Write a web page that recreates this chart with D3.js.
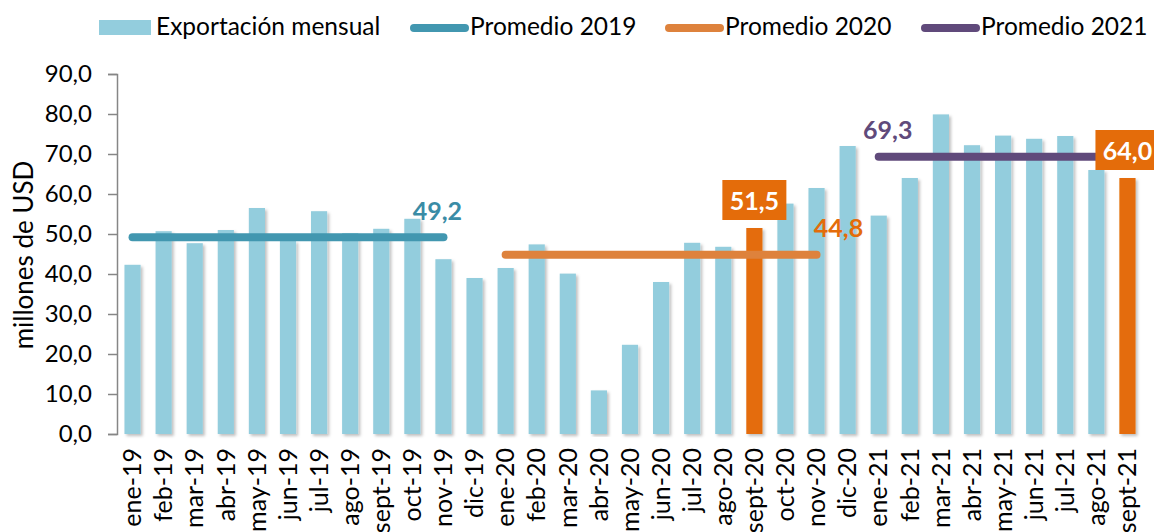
<!DOCTYPE html>
<html>
<head>
<meta charset="utf-8">
<script src="https://cdn.jsdelivr.net/npm/d3@7"></script>
<style>
  body { margin: 0; background: #fff; }
  svg { display: block; font-family: Lato, "Open Sans", sans-serif; }
</style>
</head>
<body>
<div id="draw"></div>
<script>
// monthly exports, millones de USD
var months = ["ene-19","feb-19","mar-19","abr-19","may-19","jun-19","jul-19","ago-19","sept-19","oct-19","nov-19","dic-19",
  "ene-20","feb-20","mar-20","abr-20","may-20","jun-20","jul-20","ago-20","sept-20","oct-20","nov-20","dic-20",
  "ene-21","feb-21","mar-21","abr-21","may-21","jun-21","jul-21","ago-21","sept-21"];
var exports = [42.3, 50.7, 47.7, 51.0, 56.5, 48.3, 55.7, 50.2, 51.3, 53.8, 43.7, 39.0,
  41.5, 47.4, 40.1, 10.9, 22.3, 38.0, 47.8, 46.8, 51.5, 57.6, 61.5, 72.0,
  54.6, 64.0, 79.9, 72.2, 74.6, 73.8, 74.5, 66.0, 64.0];
var highlighted = ["sept-20", "sept-21"];

// yearly averages
var avgYears = ["2019", "2020", "2021"];
var avgValues = [49.2, 44.8, 69.3];
var avgStart = ["ene-19", "ene-20", "ene-21"];
var avgEnd = ["nov-19", "nov-20", "ago-21"];

var yTicks = [0, 10, 20, 30, 40, 50, 60, 70, 80, 90];

var W = 1154, H = 532;
var barColor = "#93cddd", hiColor = "#e46c0a";
var avgColors = ["#4297b0", "#de823c", "#604a7b"];
var avgTextColors = ["#3a8ca6", "#e46c0a", "#604a7b"];
// label offsets relative to the line ends (dx from anchor point, dy above line)
var avgLabelPos = [{at: "end", dx: -6, dy: -17}, {at: "end", dx: 22, dy: -18}, {at: "start", dx: 9, dy: -18}];

var fmt = function(v) { return d3.format(".1f")(v).replace(".", ","); };

var svg = d3.select("#draw").append("svg").attr("width", W).attr("height", H);

var defs = svg.append("defs");
defs.append("filter").attr("id", "shadow")
  .attr("x", "-20%").attr("y", "-5%").attr("width", "160%").attr("height", "110%")
  .append("feDropShadow")
  .attr("dx", 2).attr("dy", 2).attr("stdDeviation", 1.5)
  .attr("flood-color", "#000").attr("flood-opacity", 0.25);

var x = d3.scaleBand().domain(months).range([117, 1143]).paddingInner(0.48).paddingOuter(0.24);
var y = d3.scaleLinear().domain([0, 90]).range([434, 74]);

// y axis
var yAxis = svg.append("g")
  .attr("transform", "translate(117,0)")
  .call(d3.axisLeft(y).tickValues(yTicks).tickSize(9).tickPadding(16).tickFormat(fmt));
yAxis.select(".domain").attr("stroke", "#868686").attr("stroke-width", 1.5);
yAxis.selectAll(".tick line").attr("stroke", "#868686").attr("stroke-width", 1.5);
yAxis.selectAll(".tick text").attr("font-size", 24).attr("fill", "#000").attr("font-family", "Lato");

svg.append("text")
  .attr("transform", "translate(33,255) rotate(-90)")
  .attr("text-anchor", "middle")
  .attr("font-size", 26)
  .text("millones de USD");

// bars
svg.append("g").selectAll("rect")
  .data(months)
  .join("rect")
  .attr("x", function(d) { return x(d); })
  .attr("y", function(d, i) { return y(exports[i]); })
  .attr("width", x.bandwidth())
  .attr("height", function(d, i) { return y(0) - y(exports[i]); })
  .attr("fill", function(d) { return highlighted.indexOf(d) >= 0 ? hiColor : barColor; })
  .attr("filter", "url(#shadow)");

// x labels
var xAxis = svg.append("g")
  .attr("transform", "translate(0,434)")
  .call(d3.axisBottom(x).tickSize(0).tickPadding(0));
xAxis.select(".domain").remove();
xAxis.selectAll(".tick text")
  .attr("transform", "rotate(-90)")
  .attr("text-anchor", "end")
  .attr("dy", "0.35em")
  .attr("x", -14)
  .attr("y", 0)
  .attr("font-size", 25)
  .attr("fill", "#000")
  .attr("font-family", "Lato");

// average lines
var cx = function(m) { return x(m) + x.bandwidth() / 2; };
svg.append("g").selectAll("line")
  .data(avgYears)
  .join("line")
  .attr("x1", function(d, i) { return cx(avgStart[i]); })
  .attr("x2", function(d, i) { return cx(avgEnd[i]); })
  .attr("y1", function(d, i) { return y(avgValues[i]); })
  .attr("y2", function(d, i) { return y(avgValues[i]); })
  .attr("stroke", function(d, i) { return avgColors[i]; })
  .attr("stroke-width", 8)
  .attr("stroke-linecap", "round");

svg.append("g").selectAll("text")
  .data(avgYears)
  .join("text")
  .attr("x", function(d, i) {
    var p = avgLabelPos[i];
    return cx(p.at === "end" ? avgEnd[i] : avgStart[i]) + p.dx;
  })
  .attr("y", function(d, i) { return y(avgValues[i]) + avgLabelPos[i].dy; })
  .attr("text-anchor", "middle")
  .attr("font-size", 25)
  .attr("font-weight", "bold")
  .attr("fill", function(d, i) { return avgTextColors[i]; })
  .text(function(d, i) { return fmt(avgValues[i]); });

// highlighted value boxes
var hl = svg.append("g").selectAll("g")
  .data(highlighted)
  .join("g")
  .attr("transform", function(d) {
    var v = exports[months.indexOf(d)];
    return "translate(" + cx(d) + "," + (y(v) - 8) + ")";
  });
hl.append("rect")
  .attr("x", -32).attr("y", -40).attr("width", 64).attr("height", 40)
  .attr("fill", hiColor);
hl.append("text")
  .attr("y", -10)
  .attr("text-anchor", "middle")
  .attr("font-size", 25)
  .attr("font-weight", "bold")
  .attr("fill", "#fff")
  .text(function(d) { return fmt(exports[months.indexOf(d)]); });

// legend
var legend = svg.append("g").attr("font-size", 24.5);
legend.append("rect").attr("x", 99).attr("y", 20).attr("width", 52).attr("height", 15).attr("fill", barColor);
legend.append("text").attr("x", 156).attr("y", 35).text("Exportación mensual");
var legX = [414, 669, 925];
avgYears.forEach(function(yr, i) {
  legend.append("line")
    .attr("x1", legX[i]).attr("x2", legX[i] + 51)
    .attr("y1", 28).attr("y2", 28)
    .attr("stroke", avgColors[i]).attr("stroke-width", 8).attr("stroke-linecap", "round");
  legend.append("text").attr("x", legX[i] + 56).attr("y", 35).text("Promedio " + yr);
});
</script>
</body>
</html>
